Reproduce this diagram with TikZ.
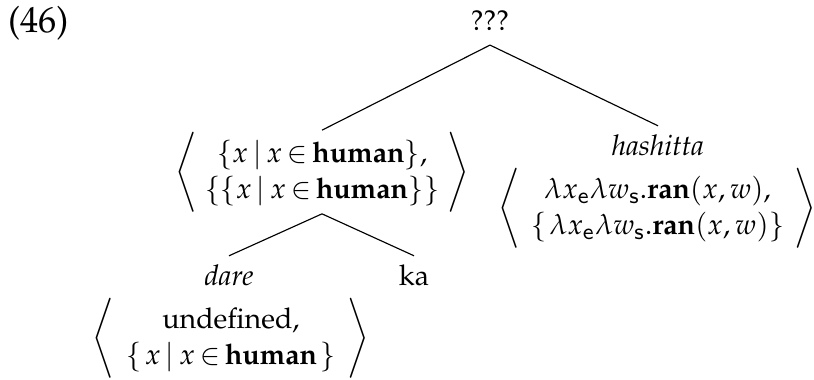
\documentclass[tikz,border=0pt]{standalone}
\usepackage[T1]{fontenc}
\usepackage{mathpazo}
\usepackage{graphicx}
\renewcommand{\arraystretch}{1.05}
\newcommand{\bw}[1]{\mbox{\bfseries #1}}
\newcommand{\lang}{\scalebox{1}[1.17]{$\bigg\langle$}}
\newcommand{\rang}{\scalebox{1}[1.17]{$\bigg\rangle$}}
\newcommand{\pairbox}[3][2.6pt]{$\thickmuskip=3mu plus 1mu\lang\begin{array}{@{\hspace{#1}}c@{\hspace{#1}}}#2\\#3\end{array}\rang$}
\begin{document}
\begin{tikzpicture}[x=0.35pt,y=-0.35pt,
  every node/.style={inner sep=0pt,outer sep=0pt},
  leaf/.style={inner xsep=0pt,inner ysep=3pt},
  branch/.style={line width=0.4pt}]
\useasboundingbox (0,0) rectangle (814,379);
\node[anchor=base west,font=\fontsize{12.7}{15}\selectfont] (num) at (8,32) {(46)};
\node[anchor=base,inner ysep=5.25pt] (T) at (490,30) {???};
\node (L) at (322,172) {\pairbox{\{x\mid x\in\bw{human}\},}{\{\{x\mid x\in\bw{human}\}\}}};
\node[leaf,anchor=base] (H) at (658,155) {\textit{hashitta}};
\node (R) at (657.5,208.5) {\pairbox[3.6pt]{\lambda x_{\mathsf{e}}\lambda w_{\mathsf{s}}.\bw{ran}(x,w),}{\{\mskip2mu\lambda x_{\mathsf{e}}\lambda w_{\mathsf{s}}.\bw{ran}(x,w)\}}};
\node[leaf,anchor=base] (D) at (229,285) {\textit{dare}};
\node[leaf,anchor=base] (K) at (414,285) {ka};
\node (B) at (231,338) {\pairbox[4pt]{\mbox{undefined,}}{\{\mskip2mu x\mid x\in\bw{human}\mskip2mu\}}};
\draw[branch] (T.south) -- (L.north);
\draw[branch] (T.south) -- (H.north);
\draw[branch] (L.south) -- (D.north);
\draw[branch] (L.south) -- (K.north);
\end{tikzpicture}
\end{document}
